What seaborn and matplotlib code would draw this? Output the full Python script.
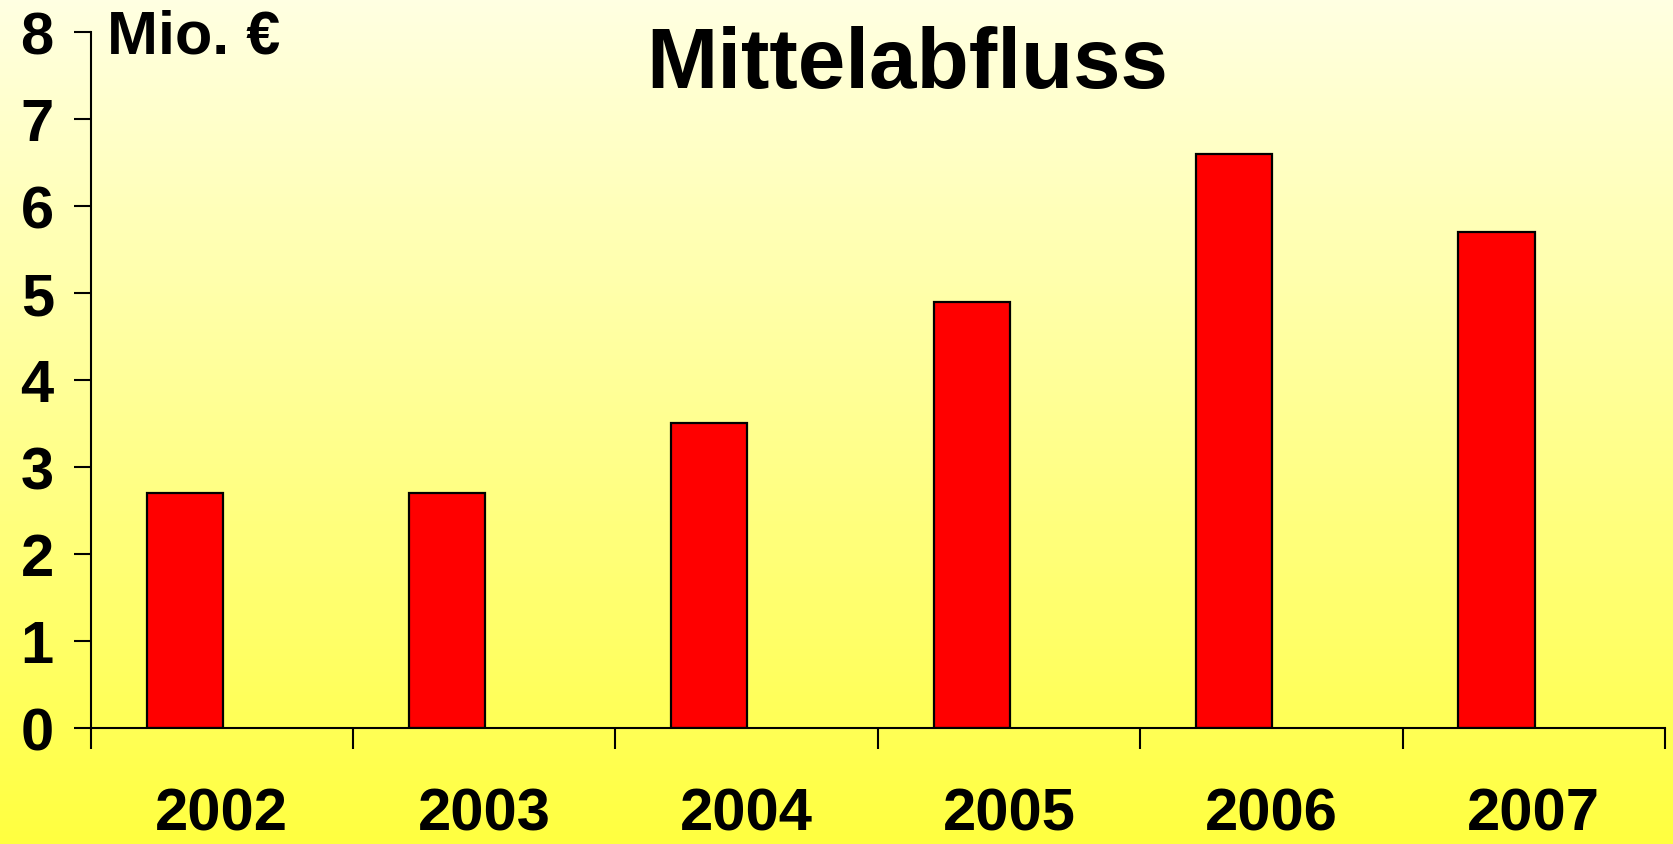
import numpy as np
import pandas as pd
import matplotlib
matplotlib.use("Agg")
import matplotlib.pyplot as plt
import seaborn as sns

years = ["2002", "2003", "2004", "2005", "2006", "2007"]
values = [2.7, 2.7, 3.5, 4.9, 6.6, 5.7]
yticks = [0, 1, 2, 3, 4, 5, 6, 7, 8]

df = pd.DataFrame({"Jahr": years, "Wert": values})

sns.set_style("white")
plt.rcParams["font.family"] = ["Liberation Sans", "DejaVu Sans"]
plt.rcParams["font.weight"] = "bold"
plt.rcParams["text.color"] = "black"
plt.rcParams["xtick.color"] = "black"
plt.rcParams["ytick.color"] = "black"

fig = plt.figure(figsize=(16.73, 8.45), dpi=100)

# background gradient: pale cream at top to yellow at bottom
bg = fig.add_axes([0, 0, 1, 1], zorder=0)
grad = np.linspace(0, 1, 256).reshape(-1, 1)
top = np.array([255, 255, 226]) / 255
bot = np.array([255, 255, 64]) / 255
img = top + (bot - top) * grad[:, :, None]
bg.imshow(img, aspect="auto", extent=[0, 1, 0, 1])
bg.axis("off")

ax = fig.add_axes([0.0542, 0.1373, 0.9410, 0.8237], zorder=1)
ax.patch.set_alpha(0)

sns.barplot(data=df, x="Jahr", y="Wert", color="#FF0000", width=0.29,
            edgecolor="black", linewidth=1.6, saturation=1, ax=ax)

# slot boundaries: bar sits in left part of each slot
off = 0.358
ax.set_xlim(-off, len(years) - off)
ax.set_ylim(0, 8)
ax.set_xticks([i - off for i in range(len(years) + 1)])
ax.set_xticklabels([])
ax.set_xticks([i - off + 0.5 for i in range(len(years))], minor=True)
ax.set_xticklabels(years, minor=True, fontsize=43, fontweight="bold")
ax.tick_params(axis="x", which="major", bottom=True, direction="out", length=15, width=1.5, color="black")
ax.tick_params(axis="x", which="minor", bottom=True, length=0, pad=42)
ax.set_yticks(yticks)
ax.set_yticklabels([str(v) for v in yticks], fontsize=43, fontweight="bold")
ax.tick_params(axis="y", left=True, direction="out", length=12.5, width=1.5, color="black", pad=14)

for s in ["top", "right"]:
    ax.spines[s].set_visible(False)
for s in ["left", "bottom"]:
    ax.spines[s].set_color("black")
    ax.spines[s].set_linewidth(1.5)

ax.set_xlabel("")
ax.set_ylabel("")

fig.text(0.064, 0.955, "Mio. €", fontsize=44, fontweight="bold", ha="left", va="center")
fig.text(0.542, 0.922, "Mittelabfluss", fontsize=61.5, fontweight="bold", ha="center", va="center")

fig.savefig("out.png", dpi=100)
